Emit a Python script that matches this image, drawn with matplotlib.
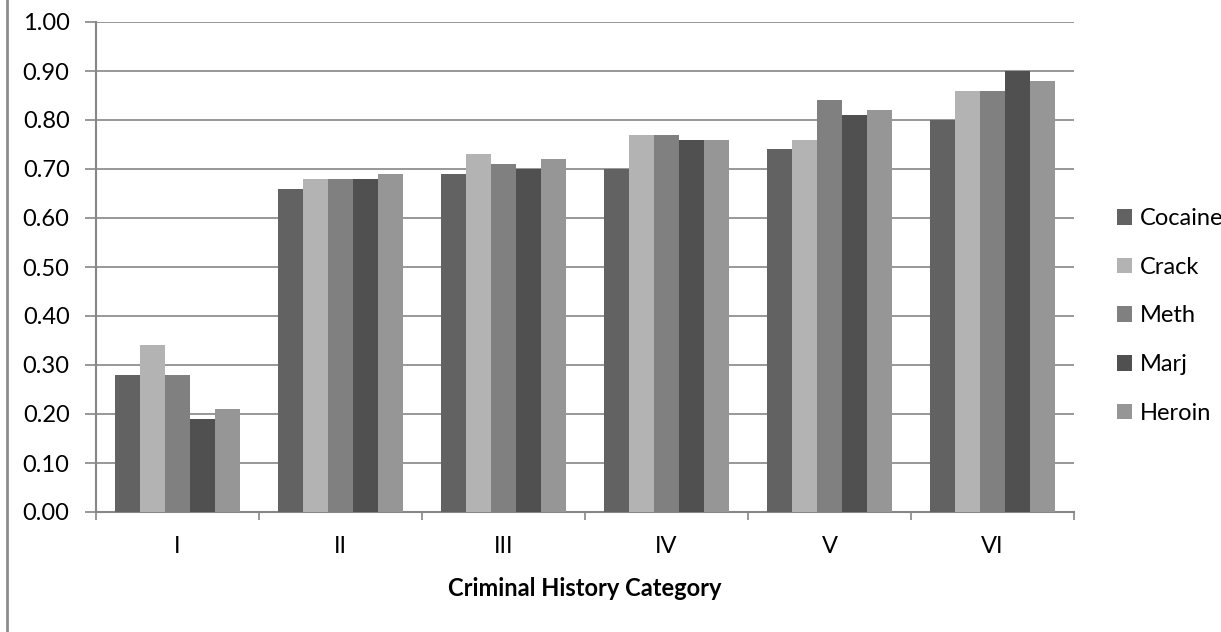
import numpy as np
import matplotlib
matplotlib.use("Agg")
import matplotlib.pyplot as plt
from matplotlib.patches import Patch
from matplotlib.lines import Line2D

categories = ["I", "II", "III", "IV", "V", "VI"]
drugs = ["Cocaine", "Crack", "Meth", "Marj", "Heroin"]
cocaine = [0.28, 0.66, 0.69, 0.70, 0.74, 0.80]
crack   = [0.34, 0.68, 0.73, 0.77, 0.76, 0.86]
meth    = [0.28, 0.68, 0.71, 0.77, 0.84, 0.86]
marj    = [0.19, 0.68, 0.70, 0.76, 0.81, 0.90]
heroin  = [0.21, 0.69, 0.72, 0.76, 0.82, 0.88]
series = [cocaine, crack, meth, marj, heroin]
colors = ["#626262", "#b3b3b3", "#808080", "#505050", "#969696"]

plt.rcParams["font.family"] = ["Lato", "DejaVu Sans"]
GRID = "#868686"
FS = 17

fig = plt.figure(figsize=(12.21, 6.32), dpi=100)
ax = fig.add_axes([96 / 1221, 1 - 512 / 632, (1074 - 96) / 1221, (512 - 22) / 632])

x = np.arange(len(categories))
bw = 0.153
for i, (vals, c) in enumerate(zip(series, colors)):
    ax.bar(x + (i - 2) * bw, vals, width=bw, color=c, edgecolor="none", zorder=3, label=drugs[i])

ax.set_xlim(-0.5, len(categories) - 0.5)
ax.set_ylim(0, 1.0)
ax.set_yticks(np.arange(0, 1.01, 0.1))
ax.set_yticklabels([f"{v:.2f}" for v in np.arange(0, 1.01, 0.1)])
ax.yaxis.grid(True, color=GRID, linewidth=1.2, zorder=0)
ax.set_axisbelow(True)

ax.set_xticks(x)
ax.set_xticklabels(categories)
ax.set_xticks(np.arange(-0.5, len(categories)), minor=True)
ax.tick_params(axis="x", which="major", length=0, pad=17, labelsize=FS)
ax.tick_params(axis="x", which="minor", length=6, width=1.2, color=GRID, direction="out")
ax.tick_params(axis="y", length=8, width=1.2, color=GRID, labelsize=FS, pad=11)

for s in ["top", "right"]:
    ax.spines[s].set_visible(False)
for s in ["left", "bottom"]:
    ax.spines[s].set_color(GRID)
    ax.spines[s].set_linewidth(1.5)

ax.set_xlabel("Criminal History Category", fontsize=FS, fontweight="bold", labelpad=15)

handles = [Patch(facecolor=c, edgecolor="none") for c in colors]
fig.legend(handles, drugs, loc="center left", bbox_to_anchor=(1117 / 1221, 0.5),
           frameon=False, fontsize=FS, handlelength=0.65, handleheight=0.65,
           handletextpad=0.3, labelspacing=1.17, borderpad=0, borderaxespad=0)

# left border of the chart area
fig.add_artist(Line2D([7 / 1221, 7 / 1221], [0, 1], transform=fig.transFigure,
                      color="#8c8c8c", linewidth=2))

fig.savefig("out.png", dpi=100)
